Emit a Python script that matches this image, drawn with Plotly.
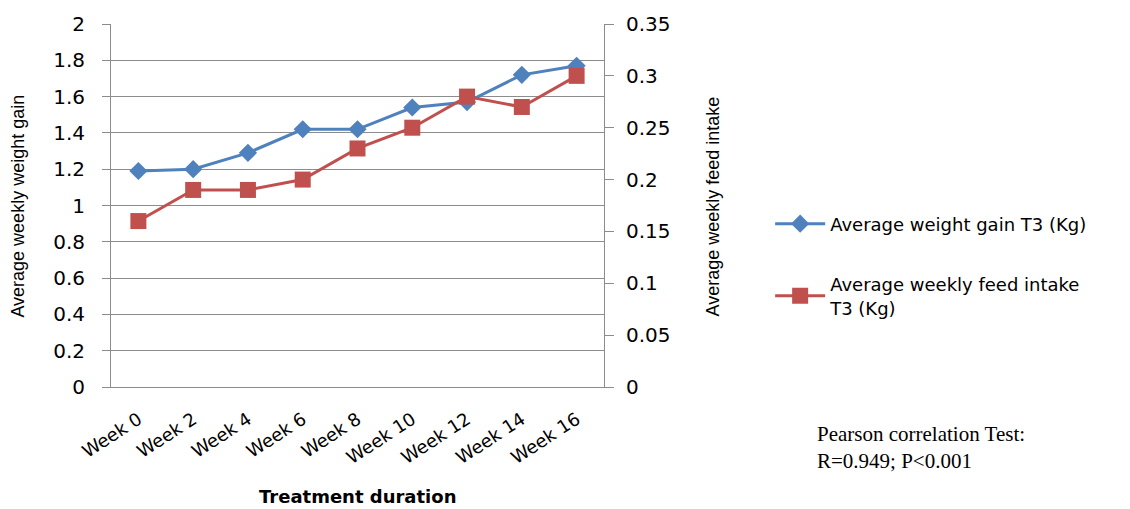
import plotly.graph_objects as go

weeks = ["Week 0", "Week 2", "Week 4", "Week 6", "Week 8", "Week 10", "Week 12", "Week 14", "Week 16"]
weight_gain = [1.19, 1.20, 1.29, 1.42, 1.42, 1.54, 1.57, 1.72, 1.77]
feed_intake = [0.16, 0.19, 0.19, 0.20, 0.23, 0.25, 0.28, 0.27, 0.30]

left_ticks = [0, 0.2, 0.4, 0.6, 0.8, 1, 1.2, 1.4, 1.6, 1.8, 2]
left_labels = ["0", "0.2", "0.4", "0.6", "0.8", "1", "1.2", "1.4", "1.6", "1.8", "2"]
right_ticks = [0, 0.05, 0.1, 0.15, 0.2, 0.25, 0.3, 0.35]
right_labels = ["0", "0.05", "0.1", "0.15", "0.2", "0.25", "0.3", "0.35"]

BLUE = "#4F81BD"
RED = "#C0504D"
AXIS = "#8C8C8C"
TXT = "#000000"
SANS = "DejaVu Sans, Open Sans, sans-serif"

fig = go.Figure()
fig.add_trace(go.Scatter(
    x=weeks, y=weight_gain, name="Average weight gain T3 (Kg)",
    mode="lines+markers", yaxis="y",
    line=dict(color=BLUE, width=3),
    marker=dict(symbol="diamond", size=14, color=BLUE),
    legendgroup="a",
))
fig.add_trace(go.Scatter(
    x=weeks, y=feed_intake, name="Average weekly feed intake<br>T3 (Kg)",
    mode="lines+markers", yaxis="y2",
    line=dict(color=RED, width=3),
    marker=dict(symbol="square", size=16, color=RED),
    legendgroup="b",
))

fig.update_layout(
    width=1130, height=509,
    margin=dict(l=111, r=526, t=19, b=122),
    paper_bgcolor="white", plot_bgcolor="white",
    font=dict(family=SANS, size=17, color=TXT),
    xaxis=dict(
        type="category", range=[-0.5, 8.5],
        tickangle=-33, tickfont=dict(size=18), ticklabelstandoff=14,
        showline=True, linecolor=AXIS, linewidth=1,
        ticks="", showgrid=False, zeroline=False,
    ),
    yaxis=dict(
        range=[0, 2], tickvals=left_ticks, ticktext=left_labels,
        ticks="outside", ticklen=8, tickcolor=AXIS,
        showline=True, linecolor=AXIS, linewidth=1,
        showgrid=True, gridcolor=AXIS, gridwidth=1, zeroline=False,
        tickfont=dict(size=20), ticklabelstandoff=13,
    ),
    yaxis2=dict(
        range=[0, 0.35], tickvals=right_ticks, ticktext=right_labels,
        overlaying="y", side="right",
        ticks="outside", ticklen=9, tickcolor=AXIS,
        showline=True, linecolor=AXIS, linewidth=1,
        showgrid=False, zeroline=False,
        tickfont=dict(size=20), ticklabelstandoff=8,
    ),
    legend=dict(
        x=1.337, y=0.50, xanchor="left", yanchor="top",
        font=dict(size=18), tracegroupgap=34, itemwidth=50,
        bgcolor="rgba(0,0,0,0)",
    ),
    showlegend=True,
)

# Axis titles placed as annotations for exact positioning
fig.add_annotation(
    text="<b>Treatment duration</b>", xref="paper", yref="paper",
    x=0.5, y=-0.302, xanchor="center", yanchor="middle", showarrow=False,
    font=dict(family=SANS, size=18, color=TXT),
)
fig.add_annotation(
    text="Average weekly weight gain", xref="paper", yref="paper",
    x=-0.1886, y=0.497, xanchor="center", yanchor="middle", showarrow=False,
    textangle=-90, font=dict(family="Liberation Sans, Arial, sans-serif", size=18, color=TXT),
)
fig.add_annotation(
    text="Average weekly feed intake", xref="paper", yref="paper",
    x=1.221, y=0.497, xanchor="center", yanchor="middle", showarrow=False,
    textangle=-90, font=dict(family="Liberation Sans, Arial, sans-serif", size=18, color=TXT),
)

fig.add_annotation(
    text="Pearson correlation Test:<br>R=0.949; P<0.001",
    xref="paper", yref="paper", x=1.428, y=-0.092,
    xanchor="left", yanchor="top", showarrow=False, align="left",
    font=dict(family="Liberation Serif, Times New Roman, serif", size=21, color=TXT),
)

fig.write_html("out.html")
